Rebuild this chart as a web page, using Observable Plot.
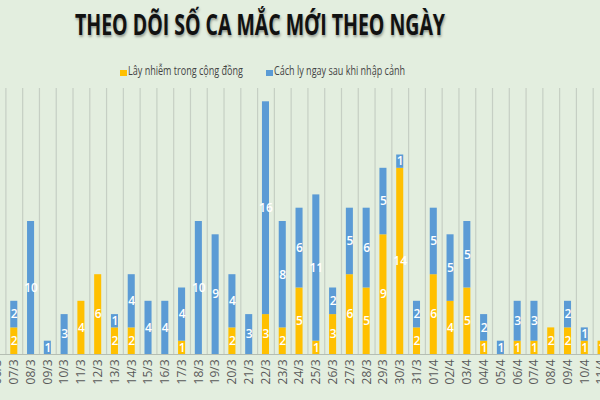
<!DOCTYPE html>
<html><head><meta charset="utf-8">
<script src="https://cdn.jsdelivr.net/npm/d3@7"></script>
<script src="https://cdn.jsdelivr.net/npm/@observablehq/plot@0.6"></script>
<style>
html,body{margin:0;padding:0;background:#e3eedf;width:600px;height:400px;overflow:hidden;}
#header{position:relative;height:88px;width:600px;}
.fit{position:absolute;white-space:nowrap;transform-origin:0 0;line-height:1;}
#title{font-family:"Open Sans";font-weight:700;font-size:28px;color:#111;text-shadow:1px 2px 3px rgba(0,0,0,0.35);}
.leg{font-family:"Open Sans";font-size:12px;color:#444;}
.sw{position:absolute;width:7px;height:6px;}
#chart{width:600px;height:312px;}
</style></head><body>
<div id="header">
  <span id="title" class="fit" data-x="75" data-y="10" data-w="370">THEO DÕI SỐ CA MẮC MỚI THEO NGÀY</span>
  <div class="sw" id="sw0" style="left:120px;top:70px;"></div>
  <span class="fit leg" id="leg0" data-x="128" data-y="65" data-w="115"></span>
  <div class="sw" id="sw1" style="left:266px;top:70px;"></div>
  <span class="fit leg" id="leg1" data-x="274" data-y="65" data-w="131"></span>
</div>
<div id="chart"></div>
<script>
const dates = ["06/3","07/3","08/3","09/3","10/3","11/3","12/3","13/3","14/3","15/3","16/3","17/3","18/3","19/3","20/3","21/3","22/3","23/3","24/3","25/3","26/3","27/3","28/3","29/3","30/3","31/3","01/4","02/4","03/4","04/4","05/4","06/4","07/4","08/4","09/4","10/4","11/4"];
const community = [0,2,0,0,0,4,6,2,2,0,0,1,0,0,2,0,3,2,5,1,3,6,5,9,14,2,6,4,5,1,0,1,1,2,2,1,1];
const quarantine = [0,2,10,1,3,0,0,1,4,4,4,4,10,9,4,3,16,8,6,11,2,5,6,5,1,2,5,5,5,2,1,3,3,0,2,1,0];
const seriesNames = ["Lây nhiễm trong cộng đồng","Cách ly ngay sau khi nhập cảnh"];
const colors = ["#FFC000","#5B9BD5"];

// legend
document.getElementById("leg0").textContent = seriesNames[0];
document.getElementById("leg1").textContent = seriesNames[1];
document.getElementById("sw0").style.background = colors[0];
document.getElementById("sw1").style.background = colors[1];
document.querySelectorAll(".fit").forEach(el => {
  el.style.left = el.dataset.x + "px";
  el.style.top = el.dataset.y + "px";
  const w = el.getBoundingClientRect().width;
  el.style.transform = `scaleX(${(+el.dataset.w) / w})`;
});

const rows = [];
dates.forEach((d, i) => rows.push({date: d, series: seriesNames[0], value: community[i]}));
dates.forEach((d, i) => rows.push({date: d, series: seriesNames[1], value: quarantine[i]}));

const step = 16.78, c0 = -3.0, pad = 0.58;
const r0 = c0 - step * (pad + (1 - pad) / 2);
const r1 = r0 + step * (dates.length - pad + 2 * pad);

const chart = Plot.plot({
  width: 600, height: 312,
  marginTop: 0, marginBottom: 46, marginLeft: 0, marginRight: 0,
  style: {background: "transparent", fontFamily: "Open Sans", fontSize: "12px", color: "#595959"},
  x: {domain: dates, range: [r0, r1], round: false, padding: pad, label: null, tickRotate: -90, tickSize: 0, tickPadding: 5},
  y: {domain: [0, 20], axis: null},
  color: {domain: seriesNames, range: colors},
  marks: [
    Plot.ruleX(dates, {x: d => d, dx: step / 2, stroke: "#c6cfc4", strokeWidth: 1.2}),
    Plot.ruleX(dates.slice(0, 1), {x: d => d, dx: -step / 2, stroke: "#c6cfc4", strokeWidth: 1.2}),
    Plot.barY(rows, {x: "date", y: "value", fill: "series"}),
    Plot.ruleY([0], {stroke: "#b5beb3", strokeWidth: 1.2}),
    Plot.text(rows.filter(r => r.value > 0), Plot.stackY({x: "date", y: "value", z: "series", text: "value", fill: "white", fontSize: 12, fontWeight: 600}))
  ]
});
document.getElementById("chart").appendChild(chart);
</script>
</body></html>
